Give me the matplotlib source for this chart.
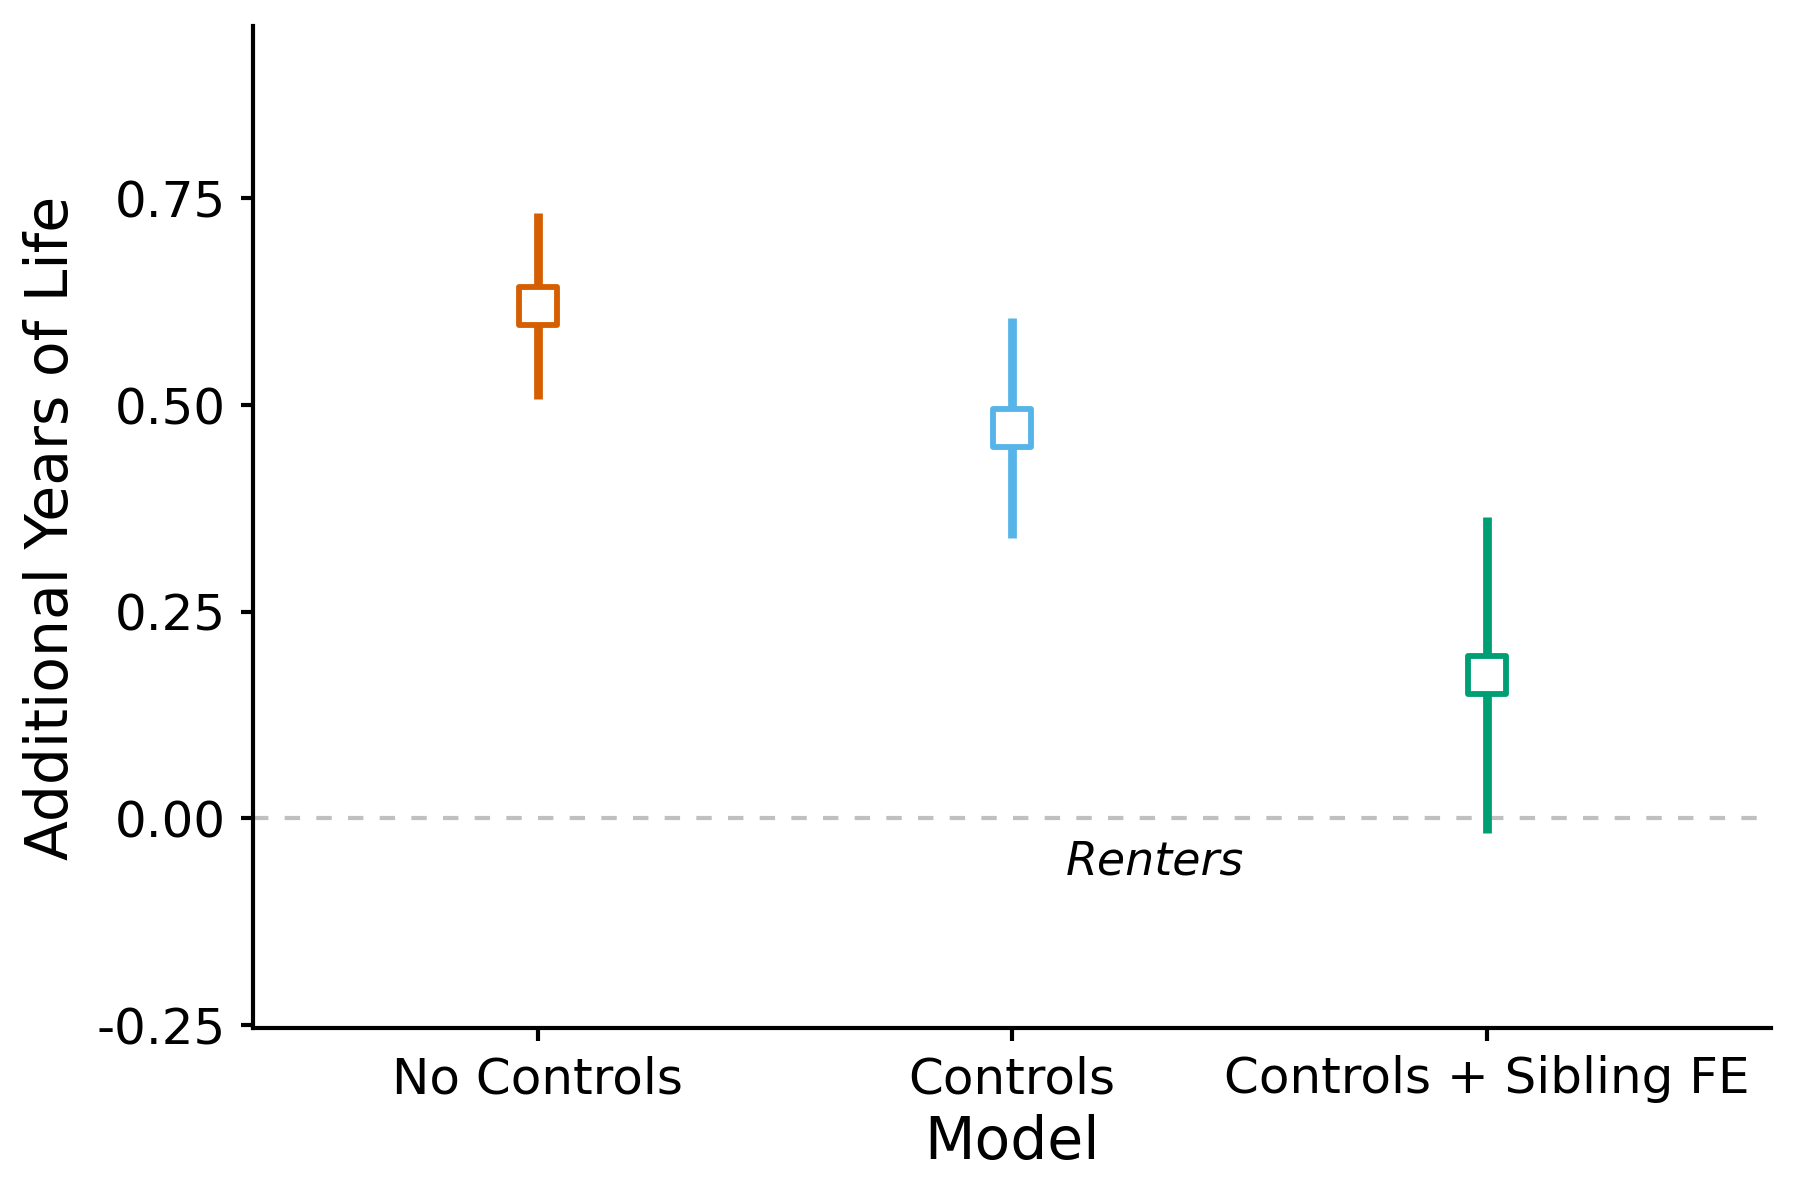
import matplotlib
matplotlib.use("Agg")
import matplotlib.pyplot as plt
from matplotlib.markers import MarkerStyle

models = ["No Controls", "Controls", "Controls + Sibling FE"]
estimates = [0.620, 0.472, 0.173]
ci_low = [0.507, 0.339, -0.018]
ci_high = [0.732, 0.605, 0.365]
colors = ["#D55E00", "#56B4E9", "#009E73"]
yticks = [-0.25, 0.0, 0.25, 0.50, 0.75]
ytick_labels = ["-0.25", "0.00", "0.25", "0.50", "0.75"]
annotation = "Renters"

fig = plt.figure(figsize=(6, 4), dpi=300)
ax = fig.add_axes([0.1407, 0.143, 0.8433, 0.835])

ax.axhline(0, color="#c0c0c0", lw=1.0, dashes=(3.7, 3.9), zorder=1)

sq = MarkerStyle("s", joinstyle="round")
for i, (m, e, lo, hi, c) in enumerate(zip(models, estimates, ci_low, ci_high, colors)):
    ax.vlines(i, lo, hi, color=c, lw=2.1, zorder=2)
    ax.plot(i, e, marker=sq, ms=9.2, mfc="white", mec=c, mew=1.4, zorder=3)

ax.text(1.30, -0.068, annotation, style="italic", fontsize=11, ha="center", va="baseline")

ax.set_xlim(-0.6, 2.6)
ax.set_ylim(-0.254, 0.958)
ax.set_xticks(range(len(models)))
ax.set_xticklabels(models, fontsize=12)
ax.set_yticks(yticks)
ax.set_yticklabels(ytick_labels, fontsize=12)
ax.set_xlabel("Model", fontsize=14, labelpad=2.5)
ax.set_ylabel("Additional Years of Life", fontsize=14)
for s in ["top", "right"]:
    ax.spines[s].set_visible(False)
for s in ["left", "bottom"]:
    ax.spines[s].set_linewidth(1.0)
ax.tick_params(width=1.0, length=3)

fig.savefig("out.png", dpi=300)
